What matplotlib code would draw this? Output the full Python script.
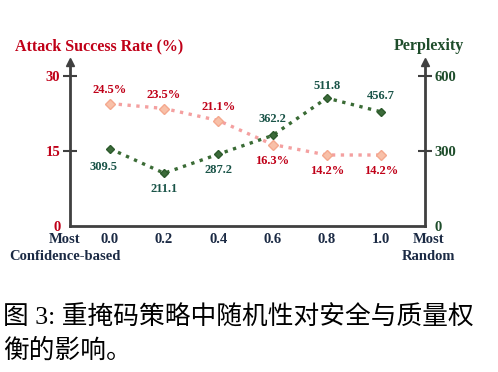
import matplotlib.pyplot as plt

plt.rcParams['font.family'] = ['Liberation Serif', 'DejaVu Serif']

# data
ratios = [0.0, 0.2, 0.4, 0.6, 0.8, 1.0]
tick_labels = ['0.0', '0.2', '0.4', '0.6', '0.8', '1.0']
asr = [24.5, 23.5, 21.1, 16.3, 14.2, 14.2]
ppl = [309.5, 211.1, 287.2, 362.2, 511.8, 456.7]

red = '#C00018'
green = '#1E4D2B'
navy = '#1B2A44'
spine_c = '#404040'

fig = plt.figure(figsize=(4.98, 3.72), dpi=100)
ax = fig.add_axes([0.1406, 0.3925, 0.7128, 0.4408])
ax2 = ax.twinx()

ax.set_xlim(-0.147, 1.162)
ax.set_ylim(0, 32.8)
ax2.set_ylim(0, 656)

# attack success rate
ax.plot(ratios, asr, linestyle=':', color='#F4A0A0', linewidth=2.4, zorder=2)
ax.plot(ratios, asr, 'D', markersize=5, markerfacecolor='#F8C0A8',
        markeredgecolor='#F4A88E', zorder=3)
for x, v in zip(ratios, asr):
    dy = 14 if x < 0.5 else -16
    ax.annotate(f'{v}%', (x, v), xytext=(0, dy), textcoords='offset pixels',
                ha='center', va='center', color=red, fontsize=9, fontweight='bold')

# perplexity
ax2.plot(ratios, ppl, linestyle=':', color='#3A6B35', linewidth=2.4, zorder=2)
ax2.plot(ratios, ppl, 'D', markersize=4.2, markerfacecolor='#3C6B3A',
         markeredgecolor='#2C5A2C', zorder=3)
offs = [(-6, -18), (0, -16), (0, -16), (0, 16), (0, 12), (0, 16)]
for x, v, (ox, oy) in zip(ratios, ppl, offs):
    ax2.annotate(f'{v}', (x, v), xytext=(ox, oy), textcoords='offset pixels',
                 ha='center', va='center', color='#1A5448', fontsize=9, fontweight='bold')

# axes styling
for a in (ax, ax2):
    a.spines['top'].set_visible(False)
    for s in ('left', 'right', 'bottom'):
        a.spines[s].set_color(spine_c)
        a.spines[s].set_linewidth(2)
ax.spines['right'].set_visible(False)
ax2.spines['left'].set_visible(False)
ax2.spines['bottom'].set_visible(False)

ax.set_yticks([0, 15, 30])
ax.set_yticklabels(['0', '15', '30'], color=red, fontsize=10.5, fontweight='bold')
ax2.set_yticks([0, 300, 600])
ax2.set_yticklabels(['0', '300', '600'], color=green, fontsize=10.5, fontweight='bold')
ax.tick_params(axis='y', direction='inout', length=10, width=1.5, color=spine_c, pad=2)
ax2.tick_params(axis='y', direction='inout', length=10, width=1.5, color=spine_c, pad=2)
ax.yaxis.get_major_ticks()[0].tick1line.set_visible(False)
ax2.yaxis.get_major_ticks()[0].tick2line.set_visible(False)

ax.set_xticks(ratios)
ax.set_xticklabels(tick_labels, color=navy, fontsize=10.5, fontweight='bold')
ax.tick_params(axis='x', length=0, pad=5)

# arrows on vertical axes
ax.plot(0, 1, '^', color=spine_c, markersize=6, transform=ax.transAxes, clip_on=False)
ax.plot(1, 1, '^', color=spine_c, markersize=6, transform=ax.transAxes, clip_on=False)

# axis titles
fig.text(0.03, 0.875, 'Attack Success Rate (%)', color=red, fontsize=11.5,
         fontweight='bold', ha='left', va='center')
fig.text(0.932, 0.875, 'Perplexity', color=green, fontsize=11.5,
         fontweight='bold', ha='right', va='center')

# end labels
for xf, word in [(0.13, 'Confidence-based'), (0.86, 'Random')]:
    fig.text(xf, 0.355, 'Most', color=navy, fontsize=10.5, fontweight='bold',
             ha='center', va='center')
    fig.text(xf, 0.31, word, color=navy, fontsize=10.5, fontweight='bold',
             ha='center', va='center')

# caption
cap_fam = ['Liberation Serif', 'Noto Sans CJK SC']
fig.text(0.006, 0.146, '图 3: 重掩码策略中随机性对安全与质量权', fontsize=18.5,
         family=cap_fam, ha='left', va='center', color='black')
fig.text(0.006, 0.058, '衡的影响。', fontsize=18.5, family=cap_fam,
         ha='left', va='center', color='black')

fig.savefig('out.png', dpi=100)
